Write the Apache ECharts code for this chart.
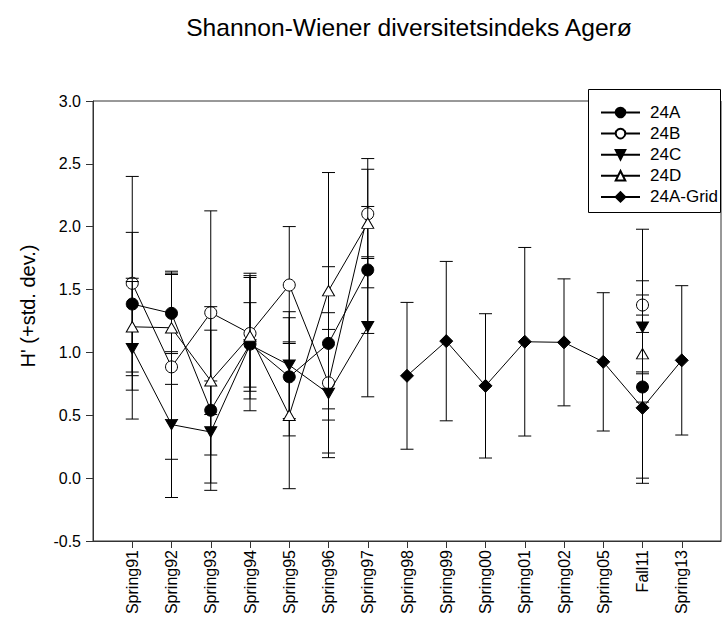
<!DOCTYPE html>
<html>
<head>
<meta charset="utf-8">
<script src="https://cdn.jsdelivr.net/npm/echarts@6/dist/echarts.min.js"></script>
<style>
  html, body { margin: 0; padding: 0; background: #fff; }
  #chart { width: 728px; height: 626px; }
</style>
</head>
<body>
<div id="chart"></div>
<script>
// Sampling occasions (x axis)
const categories = ['Spring91', 'Spring92', 'Spring93', 'Spring94', 'Spring95', 'Spring96', 'Spring97',
  'Spring98', 'Spring99', 'Spring00', 'Spring01', 'Spring02', 'Spring05', 'Fall11', 'Spring13'];

// Mean Shannon-Wiener H' per station, with standard deviations
const mean24A = [1.385, 1.311, 0.540, 1.066, 0.806, 1.072, 1.656, null, null, null, null, null, null, 0.725, null];
const sd24A   = [0.57, 0.32, 0.637, 0.53, 0.47, 0.61, 0.505, null, null, null, null, null, null, 0.12, null];

const mean24B = [1.55, 0.885, 1.316, 1.151, 1.536, 0.758, 2.102, null, null, null, null, null, null, 1.377, null];
const sd24B   = [0.85, 0.735, 0.81, 0.46, 0.465, 0.558, 0.355, null, null, null, null, null, null, 0.08, null];

const mean24C = [1.03, 0.426, 0.367, 1.06, 0.899, 0.673, 1.204, null, null, null, null, null, null, 1.2, null];
const sd24C   = [0.56, 0.58, 0.406, 0.336, 0.425, 0.51, 0.557, null, null, null, null, null, null, 0.37, null];

const mean24D = [1.204, 1.196, 0.774, 1.13, 0.50, 1.491, 2.028, null, null, null, null, null, null, 0.99, null];
const sd24D   = [0.36, 0.45, 0.59, 0.5, 0.584, 0.94, 0.514, null, null, null, null, null, null, 0.99, null];

const mean24AGrid = [null, null, null, null, null, null, null, 0.814, 1.09, 0.734, 1.085, 1.08, 0.925, 0.559, 0.937];
const sd24AGrid   = [null, null, null, null, null, null, null, 0.584, 0.634, 0.574, 0.75, 0.505, 0.55, 0.6, 0.594];

// y axis ticks
const yMin = -0.5, yMax = 3.0, yStep = 0.5;

const FONT = '"Liberation Sans", Arial, Helvetica, sans-serif';
const INK = '#000';
const AXIS = '#333';

// category i sits at x = i + 1 on a 0..16 value axis
const xPositions = categories.map((_, i) => i + 1);

function linePoints(means) {
  return means.map((v, i) => [i + 1, v]);
}
function barData(means, sds) {
  const out = [];
  means.forEach((v, i) => {
    if (v != null && sds[i] != null) out.push([i + 1, v - sds[i], v + sds[i]]);
  });
  return out;
}

const CAP = 6.5;
function renderErrorBar(params, api) {
  const x = api.value(0);
  const lo = api.coord([x, api.value(1)]);
  const hi = api.coord([x, api.value(2)]);
  const style = { stroke: INK, lineWidth: 1, fill: null };
  return {
    type: 'group',
    children: [
      { type: 'line', shape: { x1: lo[0], y1: lo[1], x2: hi[0], y2: hi[1] }, style },
      { type: 'line', shape: { x1: hi[0] - CAP, y1: hi[1], x2: hi[0] + CAP, y2: hi[1] }, style },
      { type: 'line', shape: { x1: lo[0] - CAP, y1: lo[1], x2: lo[0] + CAP, y2: lo[1] }, style }
    ]
  };
}

const TRI_DOWN = 'path://M0,0L2,0L1,1.732Z';
const TRI_UP = 'path://M1,0L2,1.732L0,1.732Z';

const stations = [
  { name: '24A', mean: mean24A, sd: sd24A, symbol: 'circle', size: 12, fill: INK },
  { name: '24B', mean: mean24B, sd: sd24B, symbol: 'circle', size: 12, fill: '#fff' },
  { name: '24C', mean: mean24C, sd: sd24C, symbol: TRI_DOWN, size: [12, 10.4], fill: INK },
  { name: '24D', mean: mean24D, sd: sd24D, symbol: TRI_UP, size: [12, 10.4], fill: '#fff' },
  { name: '24A-Grid', mean: mean24AGrid, sd: sd24AGrid, symbol: 'diamond', size: 13, fill: INK }
];

const series = [];
stations.forEach((s, k) => {
  series.push({
    name: s.name + ' sd',
    type: 'custom',
    renderItem: renderErrorBar,
    data: barData(s.mean, s.sd),
    encode: { x: 0, y: [1, 2] },
    clip: false,
    silent: true,
    z: 2 + k * 2
  });
});
stations.forEach((s, k) => {
  series.push({
    name: s.name,
    type: 'line',
    data: linePoints(s.mean),
    connectNulls: false,
    showSymbol: true,
    showAllSymbol: true,
    symbol: s.symbol,
    symbolSize: s.size,
    lineStyle: { color: INK, width: 1 },
    itemStyle: { color: s.fill, borderColor: INK, borderWidth: 1, opacity: 1 },
    emphasis: { disabled: true },
    z: 3 + k * 2
  });
});

const chart = echarts.init(document.getElementById('chart'), null, { renderer: 'svg' });
chart.setOption({
  animation: false,
  backgroundColor: '#fff',
  textStyle: { fontFamily: FONT },
  grid: {
    left: 93, top: 101, right: 7, bottom: 85,
    show: true, borderColor: AXIS, borderWidth: 1, backgroundColor: 'transparent'
  },
  xAxis: {
    type: 'value',
    min: 0, max: 16, interval: 1,
    axisLine: { show: true, onZero: false, lineStyle: { color: AXIS, width: 1 } },
    axisTick: { show: true, inside: false, length: 7, customValues: xPositions, lineStyle: { color: AXIS } },
    axisLabel: {
      customValues: xPositions,
      rotate: 90,
      margin: 9,
      fontSize: 16,
      color: INK,
      fontFamily: FONT,
      formatter: v => categories[Math.round(v) - 1] || ''
    },
    splitLine: { show: false }
  },
  yAxis: {
    type: 'value',
    min: yMin, max: yMax, interval: yStep,
    name: "H' (+std. dev.)",
    nameLocation: 'middle',
    nameRotate: 90,
    nameGap: 55,
    nameTextStyle: { fontSize: 20, color: INK, fontFamily: FONT, padding: [0, 0, 0, 30] },
    axisLine: { show: true, onZero: false, lineStyle: { color: AXIS, width: 1 } },
    axisTick: { show: true, inside: false, length: 7, lineStyle: { color: AXIS } },
    axisLabel: { margin: 12, fontSize: 16, color: INK, fontFamily: FONT, formatter: v => v.toFixed(1) },
    splitLine: { show: false }
  },
  legend: {
    data: stations.map(s => s.name),
    orient: 'vertical',
    left: 600, top: 104,
    padding: 0,
    itemWidth: 39, itemHeight: 12, itemGap: 4.1,
    selectedMode: false,
    z: 20,
    textStyle: { fontSize: 17, color: INK, fontFamily: FONT, padding: [0, 0, 0, 5] }
  },
  graphic: [
    {
      type: 'rect', z: 10, silent: true,
      shape: { x: 588.5, y: 89.5, width: 132, height: 123 },
      style: { fill: '#fff', stroke: INK, lineWidth: 1 }
    },
    {
      type: 'text', z: 10, silent: true,
      x: 409, y: 15,
      style: {
        text: 'Shannon-Wiener diversitetsindeks Agerø',
        font: '24.6px ' + FONT,
        fill: INK,
        align: 'center', textAlign: 'center',
        verticalAlign: 'top', textVerticalAlign: 'top'
      }
    }
  ],
  series
});
</script>
</body>
</html>
